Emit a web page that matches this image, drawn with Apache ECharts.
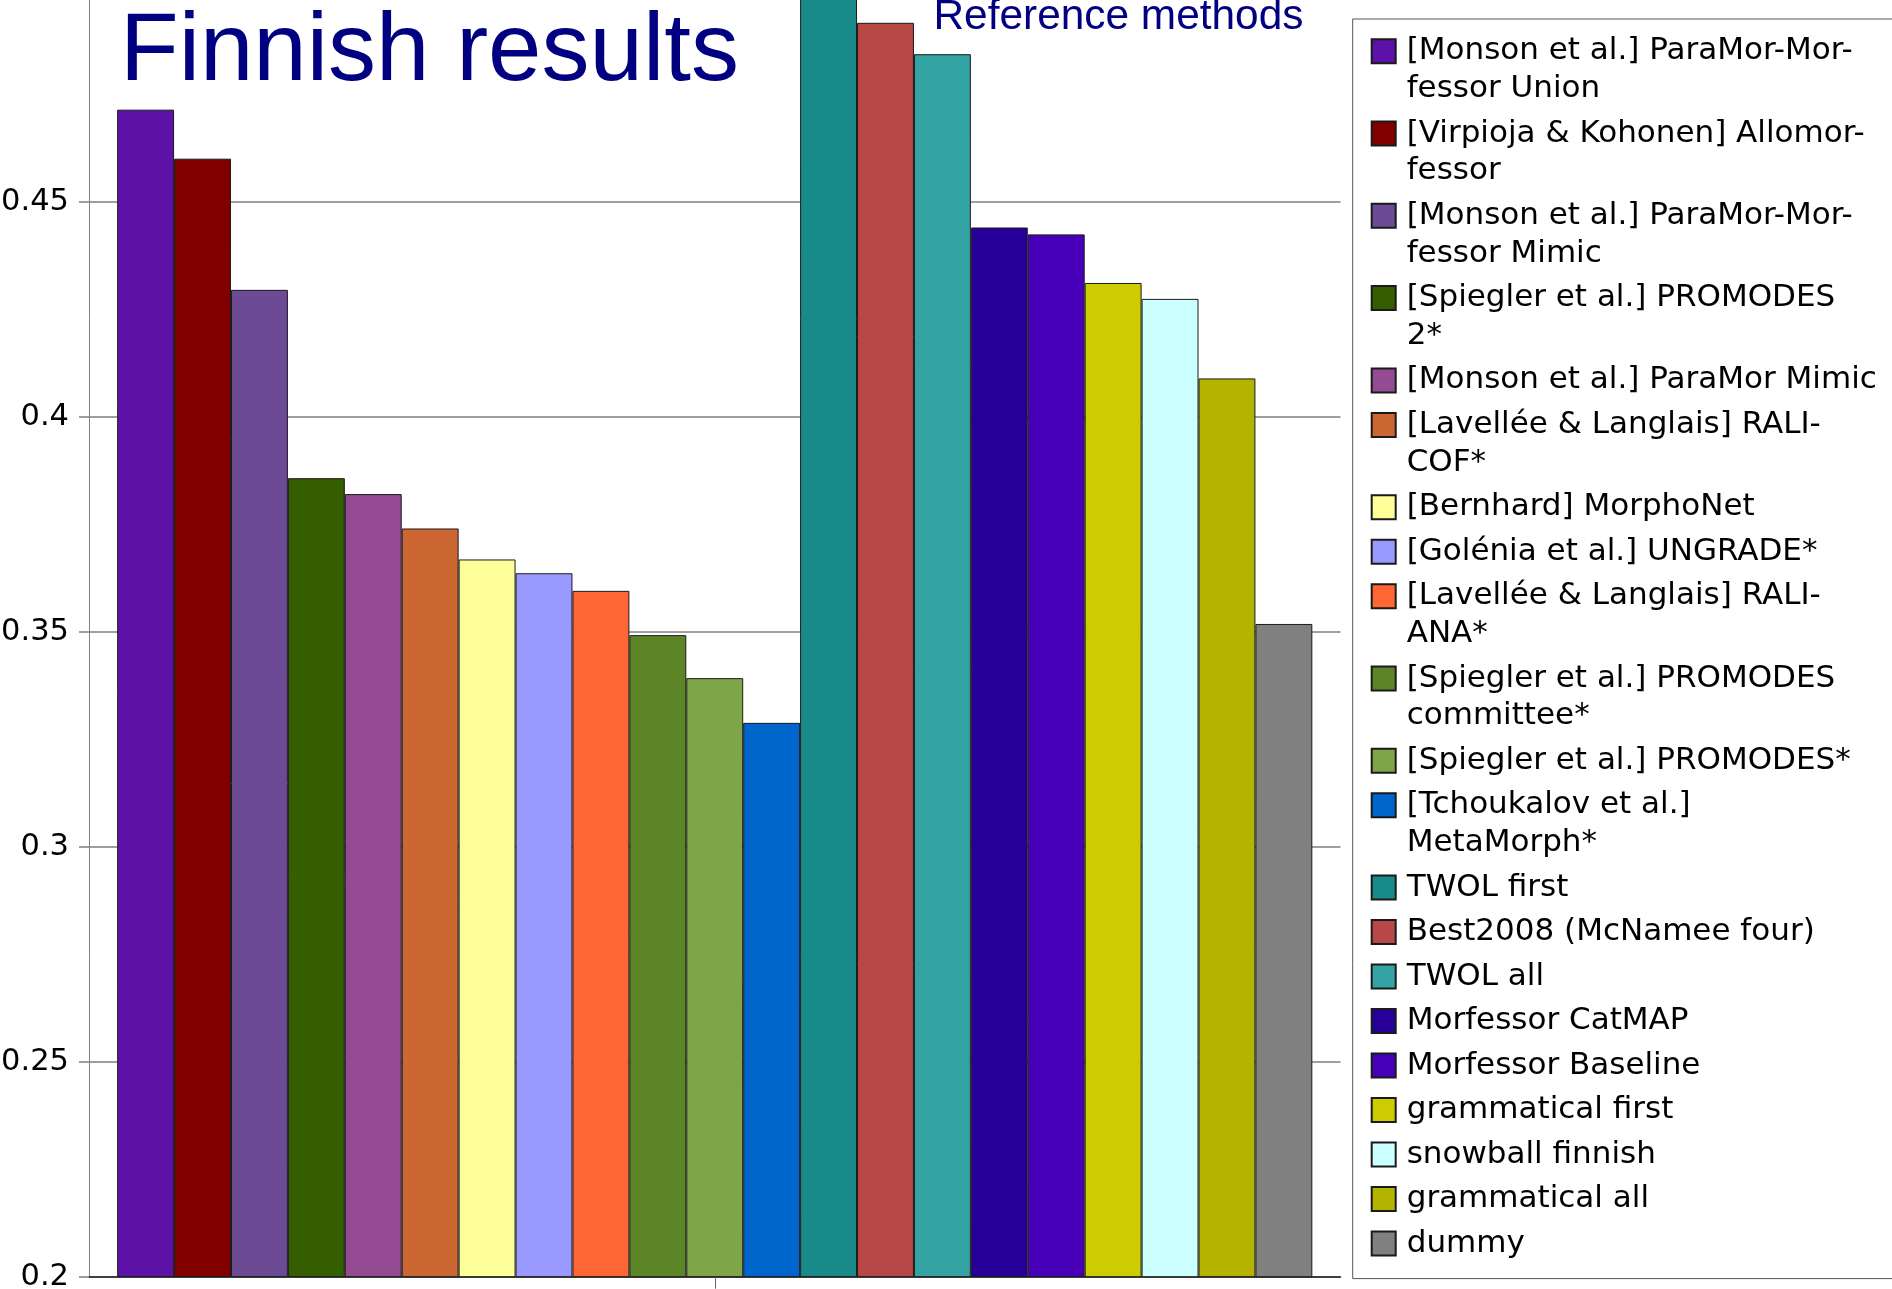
<!DOCTYPE html>
<html>
<head>
<meta charset="utf-8">
<script src="https://cdn.jsdelivr.net/npm/echarts@6/dist/echarts.min.js"></script>
<style>
html,body{margin:0;padding:0;background:#fff;}
#chart{width:1892px;height:1289px;}
</style>
</head>
<body>
<div id="chart"></div>
<script>
const categories = ['Finnish'];
const methods = [
  '[Monson et al.] ParaMor-Morfessor Union',
  '[Virpioja & Kohonen] Allomorfessor',
  '[Monson et al.] ParaMor-Morfessor Mimic',
  '[Spiegler et al.] PROMODES 2*',
  '[Monson et al.] ParaMor Mimic',
  '[Lavellée & Langlais] RALI-COF*',
  '[Bernhard] MorphoNet',
  '[Golénia et al.] UNGRADE*',
  '[Lavellée & Langlais] RALI-ANA*',
  '[Spiegler et al.] PROMODES committee*',
  '[Spiegler et al.] PROMODES*',
  '[Tchoukalov et al.] MetaMorph*',
  'TWOL first',
  'Best2008 (McNamee four)',
  'TWOL all',
  'Morfessor CatMAP',
  'Morfessor Baseline',
  'grammatical first',
  'snowball finnish',
  'grammatical all',
  'dummy'
];
const legendLabels = [
  '[Monson et al.] ParaMor-Mor-\nfessor Union',
  '[Virpioja & Kohonen] Allomor-\nfessor',
  '[Monson et al.] ParaMor-Mor-\nfessor Mimic',
  '[Spiegler et al.] PROMODES\n2*',
  '[Monson et al.] ParaMor Mimic',
  '[Lavellée & Langlais] RALI-\nCOF*',
  '[Bernhard] MorphoNet',
  '[Golénia et al.] UNGRADE*',
  '[Lavellée & Langlais] RALI-\nANA*',
  '[Spiegler et al.] PROMODES\ncommittee*',
  '[Spiegler et al.] PROMODES*',
  '[Tchoukalov et al.]\nMetaMorph*',
  'TWOL first',
  'Best2008 (McNamee four)',
  'TWOL all',
  'Morfessor CatMAP',
  'Morfessor Baseline',
  'grammatical first',
  'snowball finnish',
  'grammatical all',
  'dummy'
];
const scores = [
  0.4714, 0.4600, 0.4295, 0.3857, 0.3820, 0.3740, 0.3668, 0.3636, 0.3595, 0.3492, 0.3392, 0.3288,
  0.5000, 0.4916, 0.4843, 0.4440, 0.4424, 0.4311, 0.4274, 0.4089, 0.3518
];
const colors = [
  '#5E11A6', '#800000', '#6C4A94', '#355E00', '#954A94', '#CC6633', '#FFFF99', '#9999FF', '#FF6633',
  '#5C8528', '#7EA648', '#0066CC', '#188A8A', '#B84747', '#33A3A3', '#260099', '#4700B8', '#CCCC00',
  '#CCFFFF', '#B3B300', '#808080'
];
const yTicks = { min: 0.2, max: 0.5, interval: 0.05 };
const titleText = 'Finnish results';
const subTitleText = 'Reference methods';

const labelMap = {};
methods.forEach((m, i) => {
  labelMap[m] = legendLabels[i].split('\n').map(line => '{n|' + line + '}').join('\n');
});

const chart = echarts.init(document.getElementById('chart'), null, { renderer: 'canvas' });

const series = methods.map((m, i) => ({
  type: 'bar',
  name: m,
  data: [scores[i]],
  barGap: '0%',
  barCategoryGap: '4.5%',
  itemStyle: { color: colors[i], borderColor: '#1a1a1a', borderWidth: 1 },
  emphasis: { disabled: true },
  animation: false
}));

chart.setOption({
  animation: false,
  backgroundColor: '#ffffff',
  title: [
    {
      text: titleText, left: 120, top: 6, padding: 0,
      textStyle: { fontFamily: 'Liberation Sans', fontSize: 96, fontWeight: 'normal', color: '#000080' }
    },
    {
      text: subTitleText, left: 933.5, top: -3.5, padding: 0,
      textStyle: { fontFamily: 'Liberation Sans', fontSize: 42.4, fontWeight: 'normal', color: '#000080' }
    }
  ],
  grid: {
    left: 89, right: 551.5, top: -13.3, bottom: 12.3,
    containLabel: false,
    outerBoundsMode: 'none'
  },
  legend: {
    orient: 'vertical',
    left: 1352.7, top: 19,
    padding: [16.7, 20, 19.5, 18],
    borderColor: '#555555', borderWidth: 1,
    itemWidth: 24, itemHeight: 24, itemGap: 13.5,
    icon: 'rect',
    data: methods,
    formatter: name => labelMap[name],
    textStyle: {
      fontFamily: 'DejaVu Sans', fontSize: 31, color: '#000000',
      lineHeight: 37.8, height: 31,
      rich: { n: { padding: [0, 0, 6.8, 6] } }
    }
  },
  xAxis: {
    type: 'category',
    data: categories,
    axisLine: { show: true, lineStyle: { color: '#222222', width: 1.5 } },
    axisTick: { show: true, alignWithLabel: true, length: 12, lineStyle: { color: '#666666', width: 1 } },
    axisLabel: { show: false },
    splitLine: { show: false }
  },
  yAxis: {
    type: 'value',
    min: yTicks.min, max: yTicks.max, interval: yTicks.interval,
    axisLine: { show: true, lineStyle: { color: '#808080', width: 1 } },
    axisTick: { show: true, length: 10, lineStyle: { color: '#7f7f7f', width: 1.5 } },
    axisLabel: {
      show: true, margin: 20, showMaxLabel: false,
      fontFamily: 'DejaVu Sans', fontSize: 30.5, color: '#000000'
    },
    splitLine: { show: true, lineStyle: { color: '#7f7f7f', width: 1.5 } }
  },
  series: series
});
</script>
</body>
</html>
